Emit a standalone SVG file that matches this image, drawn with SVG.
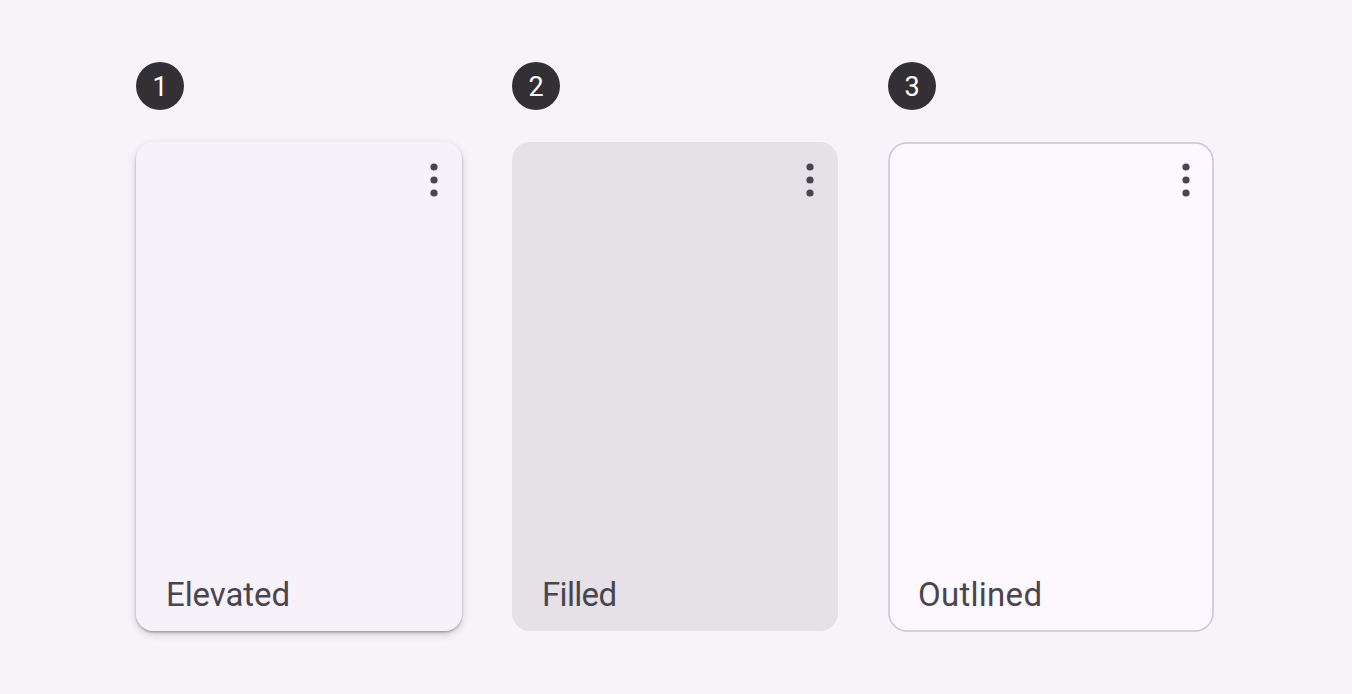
<svg xmlns="http://www.w3.org/2000/svg" width="1352" height="694" viewBox="0 0 1352 694">
<style>
.badge{fill:#322F35}
.num{font-family:Roboto,"Liberation Sans",sans-serif;font-size:27px;fill:#FFFFFF;text-anchor:middle}
.label{font-family:Roboto,"Liberation Sans",sans-serif;font-size:33px;fill:#49454F}
.dot{fill:#49454F}
</style>
<defs>
<filter id="elev" x="-10%" y="-10%" width="120%" height="120%">
<feDropShadow dx="0" dy="1.5" stdDeviation="1.2" flood-color="#000" flood-opacity="0.3"/>
<feDropShadow dx="0" dy="3" stdDeviation="4" flood-color="#000" flood-opacity="0.15"/>
</filter>
<g id="more">
<circle class="dot" cx="0" cy="-13" r="3.6"/>
<circle class="dot" cx="0" cy="0" r="3.6"/>
<circle class="dot" cx="0" cy="13" r="3.6"/>
</g>
</defs>
<rect width="1352" height="694" fill="#F6F3F9"/>
<g id="card1">
<circle class="badge" cx="160" cy="86" r="24"/>
<text class="num" x="160" y="96">1</text>
<rect x="136" y="142" width="326" height="489" rx="18" fill="#F7F2FA" filter="url(#elev)"/>
<use href="#more" x="434" y="180"/>
<text class="label" x="166" y="606" textLength="124">Elevated</text>
</g>
<g id="card2">
<circle class="badge" cx="536" cy="86" r="24"/>
<text class="num" x="536" y="96">2</text>
<rect x="512" y="142" width="326" height="489" rx="18" fill="#E5E1E7"/>
<use href="#more" x="810" y="180"/>
<text class="label" x="542" y="606" textLength="75">Filled</text>
</g>
<g id="card3">
<circle class="badge" cx="912" cy="86" r="24"/>
<text class="num" x="912" y="96">3</text>
<rect x="889" y="143" width="324" height="488" rx="18" fill="#FDF8FD" stroke="#CAC4D0" stroke-width="1.5"/>
<use href="#more" x="1186" y="180"/>
<text class="label" x="918" y="606" textLength="124">Outlined</text>
</g>
<g id="connectors"/>
</svg>
